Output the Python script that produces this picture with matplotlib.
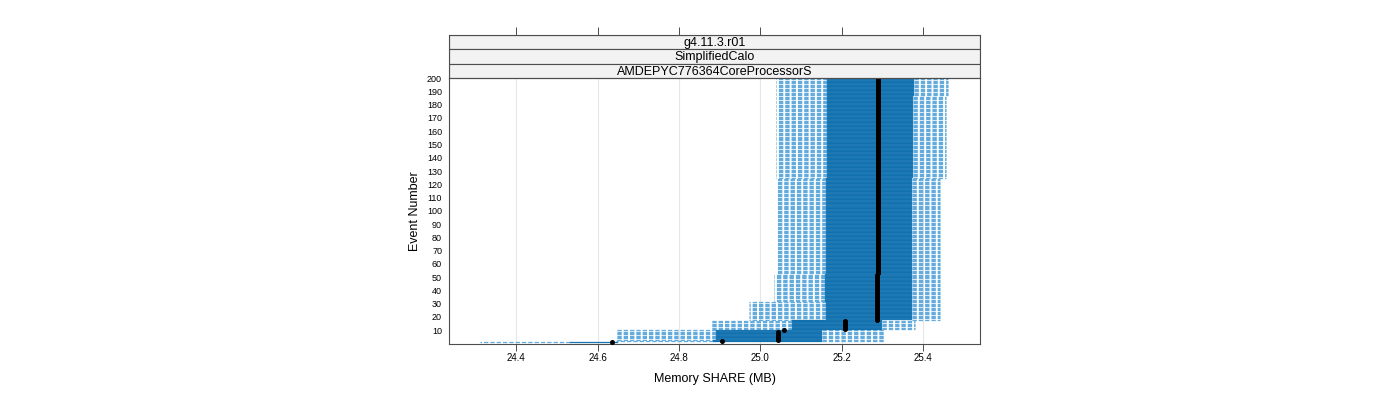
import matplotlib
matplotlib.use("Agg")
import matplotlib.pyplot as plt
import numpy as np
from matplotlib.patches import Rectangle

plt.rcParams["font.family"] = ["Liberation Sans", "DejaVu Sans"]
plt.rcParams["lines.scale_dashes"] = False

# event ranges (first, last) sharing the same box statistics, memory in MB
seg_first = [1, 2, 3, 10, 11, 18, 32, 53, 125, 187]
seg_last = [1, 2, 9, 10, 17, 31, 52, 124, 186, 200]
seg_min = [24.312, 24.646, 24.646, 24.646, 24.877, 24.972, 25.034, 25.041, 25.039, 25.039]
seg_q1 = [24.533, 24.885, 24.891, 24.891, 25.078, 25.162, 25.160, 25.162, 25.164, 25.164]
seg_med = [24.636, 24.906, 25.044, 25.058, 25.208, 25.287, 25.287, 25.289, 25.289, 25.289]
seg_q3 = [24.650, 25.152, 25.152, 25.152, 25.299, 25.373, 25.373, 25.373, 25.376, 25.378]
seg_max = [24.650, 25.304, 25.304, 25.304, 25.380, 25.442, 25.442, 25.442, 25.457, 25.461]

strip_labels = ["g4.11.3.r01", "SimplifiedCalo", "AMDEPYC776364CoreProcessorS"]
x_ticks = [24.4, 24.6, 24.8, 25.0, 25.2, 25.4]
y_ticks = list(range(10, 201, 10))

BOX = "#0a6dab"
BOX_EDGE = "#3a8ac4"
WHISK = "#62abdc"
FRAME = "#4d4d4d"

events, mins, q1s, meds, q3s, maxs = [], [], [], [], [], []
for i in range(len(seg_first)):
    for ev in range(seg_first[i], seg_last[i] + 1):
        events.append(ev)
        mins.append(seg_min[i])
        q1s.append(seg_q1[i])
        meds.append(seg_med[i])
        q3s.append(seg_q3[i])
        maxs.append(seg_max[i])
events = np.array(events)
mins, q1s, meds = np.array(mins), np.array(q1s), np.array(meds)
q3s, maxs = np.array(q3s), np.array(maxs)

W, H = 1400, 400
fig = plt.figure(figsize=(14, 4), dpi=100)
ax = fig.add_axes([449 / W, 1 - 343.5 / H, 531 / W, 265.5 / H])

for x in x_ticks:
    ax.axvline(x, color="#e6e6e6", lw=0.8, zorder=0)

dash = (0, (3.1, 1.45))
ax.hlines(events, q1s, mins, colors=WHISK, lw=0.92, linestyles=[dash], zorder=1)
ax.hlines(events, q3s, maxs, colors=WHISK, lw=0.92, linestyles=[dash], zorder=1)
ax.barh(events, q3s - q1s, left=q1s, height=1.0, color=BOX,
        edgecolor=BOX_EDGE, linewidth=0.22, zorder=2)
ax.scatter(meds, events, s=13, color="black", linewidths=0, zorder=3)

ax.set_xlim(24.235, 25.540)
ax.set_ylim(0, 200.1)
ax.set_xticks(x_ticks)
ax.set_xticklabels([f"{x:.1f}" for x in x_ticks], fontsize=7)
ax.set_yticks(y_ticks)
ax.set_yticklabels([str(y) for y in y_ticks], fontsize=6.5)
ax.tick_params(axis="x", direction="out", length=5, width=0.7, color=FRAME, pad=2)
ax.tick_params(axis="y", length=0, pad=5)
for sp in ax.spines.values():
    sp.set_color(FRAME)
    sp.set_linewidth(0.8)
ax.set_xlabel("Memory SHARE (MB)", fontsize=9, labelpad=7)
ax.set_ylabel("Event Number", fontsize=9, labelpad=4)

# strips on top, with the top tick marks above them
sax = fig.add_axes([449 / W, 1 - 78 / H, 531 / W, 43 / H], sharex=ax)
sax.set_ylim(0, 3)
for k, lab in enumerate(strip_labels):
    yb = 2 - k
    sax.add_patch(Rectangle((24.235, yb), 25.540 - 24.235, 1, facecolor="#f2f2f2",
                            edgecolor=FRAME, linewidth=0.8))
    sax.text((24.235 + 25.540) / 2, yb + 0.45, lab, ha="center", va="center", fontsize=9)
sax.set_yticks([])
sax.tick_params(axis="x", which="both", bottom=False, labelbottom=False,
                top=True, labeltop=False, direction="out", length=6, width=0.7, color=FRAME)
for sp in sax.spines.values():
    sp.set_color(FRAME)
    sp.set_linewidth(0.8)

fig.savefig("out.png", dpi=100)
